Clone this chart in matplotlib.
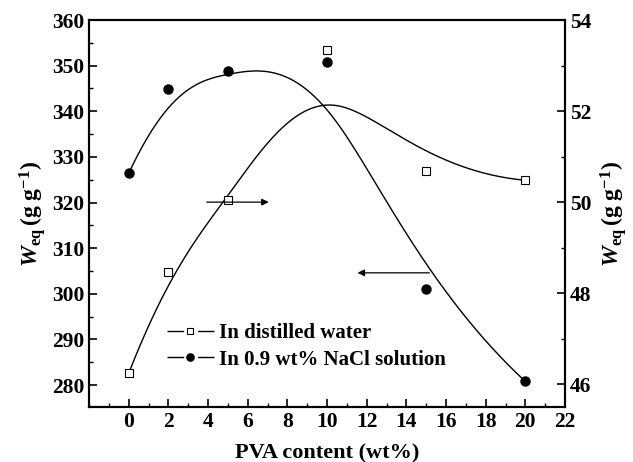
import numpy as np
import matplotlib
matplotlib.use('Agg')
import matplotlib.pyplot as plt
from matplotlib.ticker import MultipleLocator

# PVA content (wt%)
pva = [0, 2, 5, 10, 15, 20]
# swelling in 0.9 wt% NaCl (left axis) and distilled water (right axis)
nacl = [326.4, 344.9, 348.8, 350.8, 301.0, 280.8]
water = [46.24, 48.46, 50.04, 53.34, 50.68, 50.48]


def bspline(xs, ys, n=300):
    # clamped cubic B-spline using the points as control points
    pts = np.column_stack([xs, ys]).astype(float)
    k = 3
    m = len(pts)
    inner = np.arange(1, m - k)
    knots = np.concatenate([np.zeros(k + 1), inner, np.full(k + 1, m - k)]).astype(float)
    t = np.linspace(0, m - k, n)
    t[-1] -= 1e-9
    N = np.zeros((n, len(knots) - 1))
    for i in range(len(knots) - 1):
        N[:, i] = (t >= knots[i]) & (t < knots[i + 1])
    for d in range(1, k + 1):
        Nn = np.zeros((n, len(knots) - 1 - d))
        for i in range(len(knots) - 1 - d):
            a = knots[i + d] - knots[i]
            b = knots[i + d + 1] - knots[i + 1]
            left = (t - knots[i]) / a * N[:, i] if a > 0 else 0
            right = (knots[i + d + 1] - t) / b * N[:, i + 1] if b > 0 else 0
            Nn[:, i] = left + right
        N = Nn
    curve = N @ pts
    return curve[:, 0], curve[:, 1]


plt.rcParams['font.family'] = 'Liberation Serif'
plt.rcParams['font.weight'] = 'bold'
plt.rcParams['mathtext.fontset'] = 'custom'
plt.rcParams['mathtext.rm'] = 'Liberation Serif:bold'
plt.rcParams['mathtext.it'] = 'Liberation Serif:bold:italic'

fig, ax = plt.subplots(figsize=(6.33, 4.62), dpi=100)
fig.subplots_adjust(left=0.1406, right=0.8926, top=0.9567, bottom=0.119)
ax2 = ax.twinx()

cx, cy = bspline(pva, nacl)
ax.plot(cx, cy, color='black', lw=1.0)
ln1, = ax.plot(pva, nacl, 'o', color='black', ms=6.5)

sx, sy = bspline(pva, water)
ax2.plot(sx, sy, color='black', lw=1.0)
ln2, = ax2.plot(pva, water, 's', color='black', mfc='white', mec='black', mew=0.8, ms=5.5)

ax.set_xlim(-2, 22)
ax.set_ylim(275.2, 360)
ax2.set_ylim(45.5, 54)

ax.xaxis.set_major_locator(MultipleLocator(2))
ax.xaxis.set_minor_locator(MultipleLocator(1))
ax.yaxis.set_major_locator(MultipleLocator(10))
ax.yaxis.set_minor_locator(MultipleLocator(5))
ax2.yaxis.set_major_locator(MultipleLocator(2))
ax2.yaxis.set_minor_locator(MultipleLocator(1))
ax.set_xticks(range(0, 23, 2))

for a in (ax, ax2):
    a.tick_params(which='major', direction='in', length=6, width=1.2, labelsize=15.5)
    a.tick_params(which='minor', direction='in', length=3, width=1.0)
    for s in a.spines.values():
        s.set_linewidth(1.5)
ax.tick_params(axis='y', right=False)

# arrows showing which axis each curve belongs to
ax2.annotate('', xy=(7.2, 50.0), xytext=(3.8, 50.0),
             arrowprops=dict(arrowstyle='-|>', color='black', lw=0.9, mutation_scale=10))
ax.annotate('', xy=(11.4, 304.6), xytext=(15.3, 304.6),
            arrowprops=dict(arrowstyle='-|>', color='black', lw=0.9, mutation_scale=10))

ylab = r'$\mathit{W}_{\mathrm{eq}}\,\mathrm{(g\ g^{-1})}$'
ax.set_xlabel('PVA content (wt%)', fontsize=16, fontweight='bold', labelpad=8)
ax.set_ylabel(ylab, fontsize=17, labelpad=3)
ax2.set_ylabel(ylab, fontsize=17, labelpad=5, rotation=90)

leg = ax.legend([ln2, ln1], ['In distilled water', 'In 0.9 wt% NaCl solution'],
                loc='lower left', bbox_to_anchor=(0.146, 0.075), frameon=False,
                fontsize=15, handlelength=2.25, handletextpad=0.25, labelspacing=0.3,
                borderaxespad=0, markerscale=0.8)
# legend handles: short line, gap, marker, gap, short line
for h in leg.legend_handles:
    h.set_linestyle((0, (12, 10, 12, 60)))
    h.set_linewidth(1.0)

fig.savefig('out.png', dpi=100)
